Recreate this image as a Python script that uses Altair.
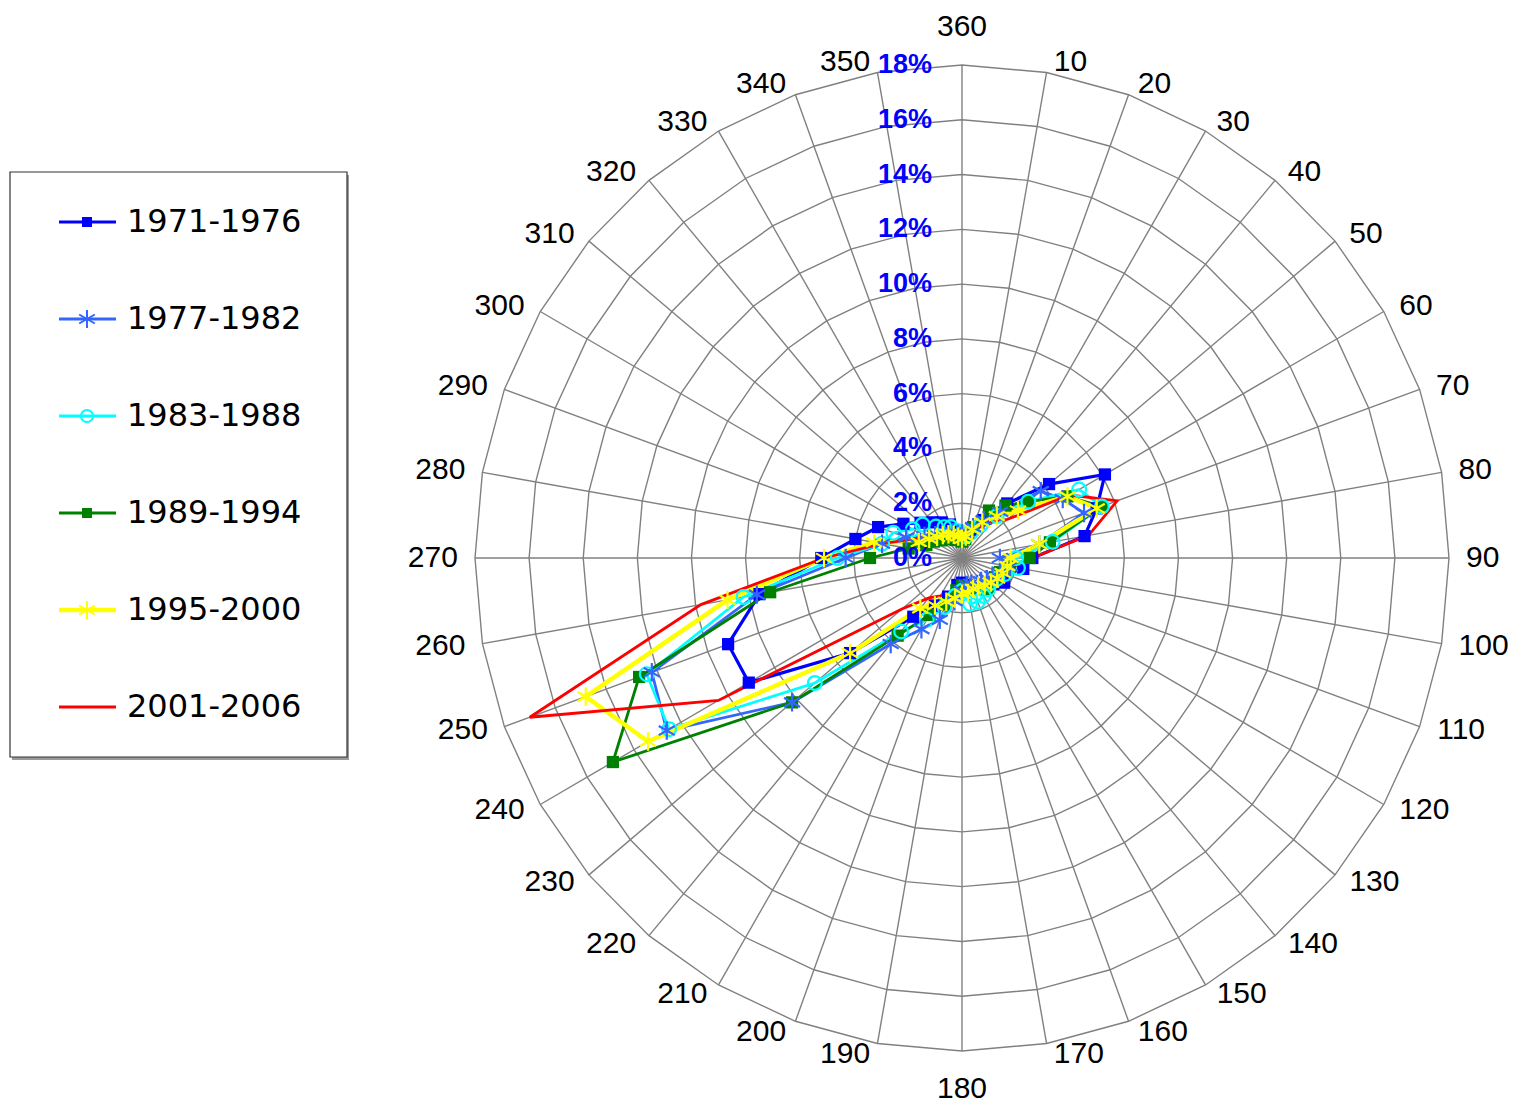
import altair as alt
import pandas as pd

# ---------------- data ----------------
directions = list(range(10, 370, 10))
series_names = ["1971-1976", "1977-1982", "1983-1988", "1989-1994", "1995-2000", "2001-2006"]

s1971 = [0.9, 1.1, 1.6, 2.6, 4.2, 6.1, 5.3, 4.6, 2.6, 2.3, 1.7, 1.8,
         1.5, 1.4, 1.2, 1.1, 1.0, 0.9, 1.0, 1.5, 2.0, 2.8, 5.4, 9.1,
         9.2, 7.6, 5.2, 4.0, 3.3, 2.5, 2.0, 1.7, 1.5, 1.3, 1.0, 0.9]
s1977 = [0.9, 1.2, 1.6, 2.2, 3.8, 4.3, 4.8, 2.9, 1.4, 1.8, 1.5, 1.3,
         1.2, 1.1, 1.1, 1.0, 1.0, 1.2, 1.6, 2.4, 3.0, 4.1, 8.2, 12.6,
         12.2, 7.7, 4.3, 3.0, 2.2, 1.6, 1.3, 1.1, 1.0, 1.0, 0.9, 0.9]
s1983 = [0.8, 1.0, 1.4, 2.0, 3.2, 5.0, 5.5, 3.4, 2.0, 2.1, 1.7, 1.5,
         1.4, 1.5, 1.6, 1.7, 1.7, 1.2, 1.4, 1.9, 2.6, 3.5, 7.1, 12.5,
         12.4, 8.2, 4.6, 3.0, 2.7, 2.1, 1.9, 1.5, 1.3, 1.2, 1.0, 0.9]
s1989 = [0.7, 1.2, 2.0, 2.5, 3.2, 4.5, 5.5, 3.3, 2.5, 1.8, 1.5, 1.4,
         1.4, 1.5, 1.3, 1.2, 1.1, 1.0, 1.2, 1.8, 2.4, 3.7, 8.2, 14.9,
         12.7, 7.2, 3.4, 2.0, 1.4, 1.2, 1.0, 0.9, 0.8, 0.7, 0.7, 0.6]
s1995 = [0.8, 1.1, 1.5, 2.0, 2.7, 4.5, 5.3, 2.9, 1.8, 1.7, 1.6, 1.5,
         1.4, 1.3, 1.2, 1.2, 1.3, 1.3, 1.5, 1.7, 2.0, 2.4, 5.4, 13.4,
         14.8, 8.8, 5.1, 3.3, 1.7, 1.4, 1.2, 1.1, 1.0, 0.9, 0.8, 0.7]
s2001 = [0.8, 1.0, 1.3, 1.7, 2.2, 4.6, 6.1, 4.75, 2.6, 1.9, 1.6, 1.5,
         1.3, 1.2, 1.1, 1.1, 1.0, 1.0, 1.2, 1.4, 1.6, 1.9, 2.9, 10.4,
         17.0, 9.8, 5.1, 3.0, 2.0, 1.5, 1.2, 1.0, 0.9, 0.8, 0.8, 0.7]

series_values = [s1971, s1977, s1983, s1989, s1995, s2001]
colors = ["#0000FF", "#3366FF", "#00FFFF", "#008000", "#FFFF00", "#FF0000"]

ring_values = [2, 4, 6, 8, 10, 12, 14, 16, 18]
ring_labels = ["0%", "2%", "4%", "6%", "8%", "10%", "12%", "14%", "16%", "18%"]
ring_label_values = [0, 2, 4, 6, 8, 10, 12, 14, 16, 18]
max_r = 18

# ---------------- tables ----------------
rows = []
for name, vals in zip(series_names, series_values):
    for d, v in zip(directions, vals):
        rows.append({"series": name, "dir": d, "value": v})
df = pd.DataFrame(rows)

grid_df = pd.DataFrame([{"ring": r, "dir": d} for r in ring_values for d in directions])
spoke_df = pd.DataFrame({"dir": directions})
dirlab_df = pd.DataFrame({"dir": directions, "label": [str(d) for d in directions]})
pct_df = pd.DataFrame({"value": ring_label_values, "label": ring_labels})
legend_df = pd.DataFrame({"series": series_names})
box_df = pd.DataFrame({"box": [1]})

# ---------------- scales ----------------
W, H = 1500, 1097
kx = 487 / 18.0
ky = 493 / 18.0
xs = alt.Scale(domain=[(8 - 962) / kx, (8 + W - 962) / kx], nice=False, zero=False)
ys = alt.Scale(domain=[-(8 + H - 558) / ky, (558 - 8) / ky], nice=False, zero=False)
cs = alt.Scale(domain=series_names, range=colors)
WIDTH_EXPR = "datum.series == '1995-2000' ? 4.5 : (datum.series == '1971-1976' ? 3.2 : 2.8)"


def X(f):
    return alt.X(f, type="quantitative", scale=xs, axis=None)


def Y(f):
    return alt.Y(f, type="quantitative", scale=ys, axis=None)


polar = dict(
    x="datum.value * sin(datum.dir * PI / 180)",
    y="datum.value * cos(datum.dir * PI / 180)",
)

# grid rings
rings = alt.Chart(grid_df).transform_calculate(
    x="datum.ring * sin(datum.dir * PI / 180)",
    y="datum.ring * cos(datum.dir * PI / 180)",
).mark_line(color="#808080", strokeWidth=1.4, interpolate="linear-closed").encode(
    x=X("x"), y=Y("y"), detail="ring:N", order="dir:Q"
)

# spokes
spokes = alt.Chart(spoke_df).transform_calculate(
    x0="0", y0="0",
    x=f"{max_r} * sin(datum.dir * PI / 180)",
    y=f"{max_r} * cos(datum.dir * PI / 180)",
).mark_rule(color="#808080", strokeWidth=1.4).encode(
    x=X("x0"), y=Y("y0"), x2="x:Q", y2="y:Q"
)

# series lines
lines = alt.Chart(df).transform_calculate(w=WIDTH_EXPR, **polar).mark_line(
    interpolate="linear-closed"
).encode(
    x=X("x"), y=Y("y"),
    color=alt.Color("series:N", scale=cs, legend=None),
    strokeWidth=alt.StrokeWidth("w:Q", scale=None, legend=None),
    order="dir:Q",
)

squares = alt.Chart(df).transform_calculate(**polar).transform_filter(
    "datum.series == '1971-1976' || datum.series == '1989-1994'"
).mark_point(shape="square", filled=True, size=150, opacity=1).encode(
    x=X("x"), y=Y("y"), color=alt.Color("series:N", scale=cs, legend=None)
)

circles = alt.Chart(df).transform_calculate(**polar).transform_filter(
    "datum.series == '1983-1988'"
).mark_point(shape="circle", filled=False, size=190, strokeWidth=2.2, opacity=1).encode(
    x=X("x"), y=Y("y"), color=alt.Color("series:N", scale=cs, legend=None)
)

STAR = "M0,-1V1M-0.87,-0.5L0.87,0.5M-0.87,0.5L0.87,-0.5"
stars = alt.Chart(df).transform_calculate(**polar).transform_filter(
    "datum.series == '1977-1982' || datum.series == '1995-2000'"
).mark_point(shape=STAR, filled=False, size=340, strokeWidth=2.2, opacity=1).encode(
    x=X("x"), y=Y("y"), color=alt.Color("series:N", scale=cs, legend=None)
)

# direction labels (placed just outside the spoke ends)
dirlabels = alt.Chart(dirlab_df).transform_calculate(
    s="sin(datum.dir * PI / 180)", c="cos(datum.dir * PI / 180)", hw="length(datum.label) * 8.4",
).transform_calculate(
    g="5 + 12 * abs(datum.s)",
).transform_calculate(
    x=f"(datum.dir == 180 || datum.dir == 360) ? 0 : {max_r} * datum.s + (datum.s > 0 ? 1 : -1) * (datum.g + datum.hw) / {kx}",
    y=f"datum.dir == 360 ? {max_r} + 38 / {ky} : (datum.dir == 180 ? -{max_r} - 38 / {ky} : {max_r} * datum.c + 11 * datum.c / {ky})",
).mark_text(font="Liberation Sans", fontSize=30, color="black", align="center", baseline="middle").encode(
    x=X("x"), y=Y("y"), text="label:N"
)

# percent labels
pct = alt.Chart(pct_df).transform_calculate(x0="0").mark_text(
    font="Liberation Sans", fontWeight="bold", fontSize=27, color="#0000FF",
    align="right", baseline="middle", dx=-30
).encode(x=X("x0"), y=Y("value"), text="label:N")

# ---------------- legend (own point scale for the rows) ----------------
LY = alt.Y("series:N", scale=alt.Scale(type="point", domain=series_names, range=[214, 699], padding=0), axis=None)

leg_shadow = alt.Chart(box_df).mark_rect(fill="#9a9a9a").encode(
    x=alt.value(4), x2=alt.value(341), y=alt.value(167), y2=alt.value(752)
)
leg_box = alt.Chart(box_df).mark_rect(fill="white", stroke="#333333", strokeWidth=1.2).encode(
    x=alt.value(2), x2=alt.value(339), y=alt.value(164), y2=alt.value(749)
)
leg_lines = alt.Chart(legend_df).transform_calculate(w=WIDTH_EXPR).mark_rule().encode(
    x=alt.value(51), x2=alt.value(108), y=LY,
    color=alt.Color("series:N", scale=cs, legend=None),
    strokeWidth=alt.StrokeWidth("w:Q", scale=None, legend=None),
)
leg_squares = alt.Chart(legend_df).transform_filter(
    "datum.series == '1971-1976' || datum.series == '1989-1994'"
).mark_point(shape="square", filled=True, size=100, opacity=1).encode(
    x=alt.value(79), y=LY, color=alt.Color("series:N", scale=cs, legend=None)
)
leg_circles = alt.Chart(legend_df).transform_filter(
    "datum.series == '1983-1988'"
).mark_point(shape="circle", filled=False, size=150, strokeWidth=2, opacity=1).encode(
    x=alt.value(79), y=LY, color=alt.Color("series:N", scale=cs, legend=None)
)
leg_stars = alt.Chart(legend_df).transform_filter(
    "datum.series == '1977-1982' || datum.series == '1995-2000'"
).mark_point(shape=STAR, filled=False, size=324, strokeWidth=2, opacity=1).encode(
    x=alt.value(79), y=LY, color=alt.Color("series:N", scale=cs, legend=None)
)
leg_text = alt.Chart(legend_df).mark_text(
    font="DejaVu Sans", fontSize=32, color="black", align="left", baseline="middle"
).encode(x=alt.value(119), y=LY, text="series:N")

chart = alt.layer(
    rings, spokes, lines, squares, circles, stars, dirlabels, pct,
    leg_shadow, leg_box, leg_lines, leg_squares, leg_circles, leg_stars, leg_text,
).resolve_scale(
    y="independent"
).properties(
    width=W, height=H, padding=0,
    autosize=alt.AutoSizeParams(type="none"),
).configure_view(stroke=None)

chart.save("out.html", embed_options={"renderer": "svg", "actions": False})
